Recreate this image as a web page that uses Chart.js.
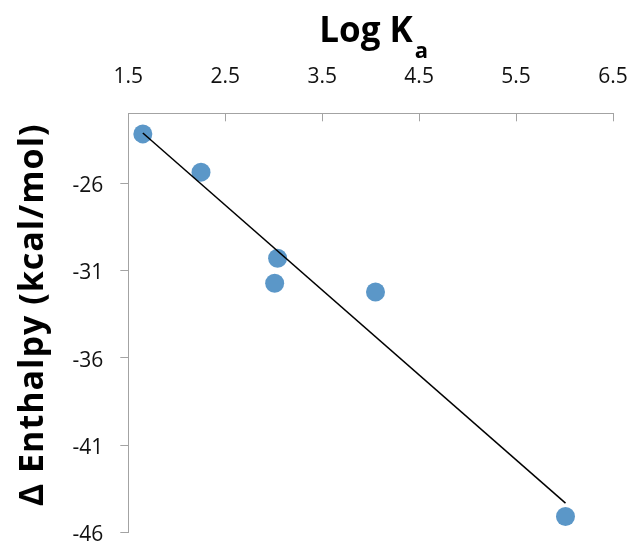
<!DOCTYPE html>
<html lang="en">
<head>
  <meta charset="UTF-8">
  <title>Log Ka vs Enthalpy</title>
  <style>
    body { margin: 0; background: #fff; overflow: hidden; }
    .box { width: 633px; height: 543px; position: relative; }
  </style>
</head>
<body>
  <div class="box">
    <canvas id="grafico"></canvas>
  </div>

  <script src="https://cdn.jsdelivr.net/npm/chart.js"></script>

  <script>
    // values
    const logKa = [1.65, 2.25, 3.04, 3.01, 4.05, 6.01];
    const enthalpy = [-23.18, -25.37, -30.30, -31.73, -32.24, -45.10];
    // trend line end points
    const fitX = [1.65, 6.01];
    const fitY = [-23.13, -44.33];
    const xTicks = [1.5, 2.5, 3.5, 4.5, 5.5, 6.5];
    const yTicks = [-46, -41, -36, -31, -26];

    const gris = "#a3a3a3";
    const tickFont = { family: "'Open Sans'", size: 21 };

    // titles drawn by hand, the x title needs a subscript
    const titulos = {
      id: "titulos",
      afterDraw(chart) {
        const ctx = chart.ctx;
        const area = chart.chartArea;
        ctx.save();
        ctx.fillStyle = "#000";
        ctx.textBaseline = "alphabetic";
        ctx.font = "bold 35px 'Open Sans'";
        const w1 = ctx.measureText("Log K").width;
        ctx.font = "bold 22px 'Open Sans'";
        const w2 = ctx.measureText("a").width;
        let x0 = (area.left + area.right) / 2 + 3 - (w1 + w2 + 2) / 2;
        ctx.textAlign = "left";
        ctx.font = "bold 35px 'Open Sans'";
        ctx.fillText("Log K", x0, 41.7);
        ctx.font = "bold 22px 'Open Sans'";
        ctx.fillText("a", x0 + w1 + 2, 57.5);

        ctx.translate(43, (area.top + area.bottom) / 2 - 8);
        ctx.rotate(-Math.PI / 2);
        ctx.textAlign = "center";
        ctx.font = "bold 34px 'Open Sans'";
        ctx.letterSpacing = "1px";
        ctx.fillText("\u0394 Enthalpy (kcal/mol)", 0, 0);
        ctx.restore();
      }
    };

    document.addEventListener("DOMContentLoaded", () => {
      const lienzo = document.getElementById("grafico");
      new Chart(lienzo, {
        type: "scatter",
        data: {
          datasets: [
            {
              label: "fit",
              data: fitX.map((x, i) => ({ x: x, y: fitY[i] })),
              showLine: true,
              borderColor: "#000",
              borderWidth: 1.5,
              pointRadius: 0,
              fill: false
            },
            {
              label: "datos",
              data: logKa.map((x, i) => ({ x: x, y: enthalpy[i] })),
              backgroundColor: "#5b97c8",
              borderColor: "#5b97c8",
              borderWidth: 0,
              pointRadius: 9.5
            }
          ]
        },
        options: {
          responsive: true,
          maintainAspectRatio: false,
          animation: false,
          layout: { padding: { top: 0, left: 0, right: 20, bottom: 10.7 } },
          plugins: { legend: { display: false }, tooltip: { enabled: false } },
          scales: {
            x: {
              type: "linear",
              position: "top",
              min: 1.5,
              max: 6.5,
              afterBuildTicks: (s) => { s.ticks = xTicks.map(v => ({ value: v })); },
              afterFit: (s) => { s.height = 113.3; s.paddingLeft = 0; s.paddingRight = 0; },
              grid: { drawOnChartArea: false, tickLength: -8, color: gris, tickColor: gris },
              border: { color: gris, width: 1 },
              ticks: {
                font: tickFont,
                color: "#111",
                padding: 31.2,
                maxRotation: 0,
                callback: (v) => Number(v).toFixed(1)
              }
            },
            y: {
              type: "linear",
              min: -46,
              max: -22,
              afterBuildTicks: (s) => { s.ticks = yTicks.map(v => ({ value: v })); },
              afterFit: (s) => { s.width = 128.3; s.paddingTop = 0; s.paddingBottom = 0; },
              grid: { drawOnChartArea: false, tickLength: 8, color: gris, tickColor: gris },
              border: { color: gris, width: 1 },
              ticks: {
                font: tickFont,
                color: "#111",
                padding: 17,
                labelOffset: 3,
                callback: (v) => String(v)
              }
            }
          }
        },
        plugins: [titulos]
      });
    });
  </script>
</body>
</html>
